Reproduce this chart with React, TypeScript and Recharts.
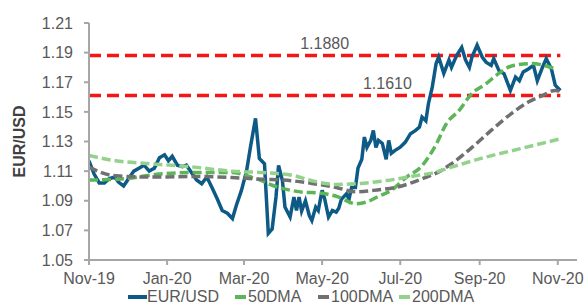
import {
  LineChart,
  Line,
  XAxis,
  YAxis,
  ReferenceLine,
  ReferenceDot,
} from "recharts";

// day 0 = 1 Nov 2019, the left edge of the date axis
const START = Date.parse("2019-11-01");
const toDay = (d: string) => (Date.parse(d) - START) / 86400000;

const fxDates = [
  "2019-11-01", "2019-11-05", "2019-11-09", "2019-11-13", "2019-11-17", "2019-11-21", "2019-11-24", "2019-11-28",
  "2019-12-02", "2019-12-06", "2019-12-10", "2019-12-14", "2019-12-18", "2019-12-22", "2019-12-26", "2019-12-30",
  "2020-01-02", "2020-01-05", "2020-01-09", "2020-01-13", "2020-01-16", "2020-01-20", "2020-01-24", "2020-01-28",
  "2020-02-01", "2020-02-05", "2020-02-09", "2020-02-13", "2020-02-17", "2020-02-21", "2020-02-24", "2020-02-28",
  "2020-03-03", "2020-03-06", "2020-03-10", "2020-03-13", "2020-03-17", "2020-03-20", "2020-03-23", "2020-03-26",
  "2020-03-28", "2020-03-31", "2020-04-02", "2020-04-06", "2020-04-09", "2020-04-11", "2020-04-13", "2020-04-15",
  "2020-04-18", "2020-04-21", "2020-04-23", "2020-04-26", "2020-04-28", "2020-05-01", "2020-05-03", "2020-05-06",
  "2020-05-09", "2020-05-12", "2020-05-14", "2020-05-16", "2020-05-20", "2020-05-22", "2020-05-24", "2020-05-27",
  "2020-05-29", "2020-06-01", "2020-06-03", "2020-06-05", "2020-06-08", "2020-06-10", "2020-06-12", "2020-06-14",
  "2020-06-17", "2020-06-20", "2020-06-22", "2020-06-24", "2020-06-27", "2020-07-01", "2020-07-05", "2020-07-09",
  "2020-07-13", "2020-07-16", "2020-07-18", "2020-07-21", "2020-07-23", "2020-07-26", "2020-07-29", "2020-07-31",
  "2020-08-04", "2020-08-08", "2020-08-10", "2020-08-14", "2020-08-18", "2020-08-21", "2020-08-24", "2020-08-26",
  "2020-08-30", "2020-09-03", "2020-09-06", "2020-09-10", "2020-09-12", "2020-09-16", "2020-09-20", "2020-09-22",
  "2020-09-25", "2020-09-29", "2020-10-02", "2020-10-05", "2020-10-09", "2020-10-13", "2020-10-16", "2020-10-20",
  "2020-10-23", "2020-10-27", "2020-10-30", "2020-11-03",
];
const eurUsd = [
  1.117, 1.108, 1.102, 1.102, 1.105, 1.106, 1.1026, 1.1,
  1.105, 1.11, 1.112, 1.114, 1.11, 1.112, 1.119, 1.121,
  1.117, 1.12, 1.114, 1.113, 1.114, 1.109, 1.104, 1.1015,
  1.106, 1.099, 1.0915, 1.0834, 1.0816, 1.078, 1.0868, 1.097,
  1.11, 1.126, 1.1456, 1.1186, 1.115, 1.068, 1.071, 1.0926,
  1.1138, 1.1037, 1.0857, 1.079, 1.0925, 1.0834, 1.0925, 1.083,
  1.09, 1.08, 1.0767, 1.0857, 1.0834, 1.097, 1.0913, 1.079,
  1.0834, 1.0823, 1.085, 1.091, 1.0947, 1.091, 1.099, 1.099,
  1.112, 1.118, 1.133, 1.126, 1.1307, 1.1375, 1.126, 1.1307,
  1.1287, 1.118, 1.1307, 1.122, 1.124, 1.1262, 1.1296, 1.1353,
  1.1375, 1.1397, 1.1465, 1.144, 1.1555, 1.1667, 1.1826, 1.187,
  1.176, 1.185, 1.18, 1.188, 1.1935, 1.185, 1.18, 1.187,
  1.195, 1.187, 1.1836, 1.1814, 1.186, 1.178, 1.1758, 1.1713,
  1.1645, 1.1735, 1.171, 1.177, 1.179, 1.1814, 1.171, 1.18,
  1.186, 1.179, 1.168, 1.1645,
];

const dma50Dates = [
  "2019-11-01", "2019-11-24", "2019-12-26", "2020-01-20", "2020-02-20", "2020-03-10", "2020-03-28", "2020-04-14",
  "2020-05-01", "2020-05-14", "2020-05-27", "2020-06-04", "2020-06-14", "2020-06-24", "2020-07-06", "2020-07-17",
  "2020-07-29", "2020-08-06", "2020-08-16", "2020-08-26", "2020-09-06", "2020-09-16", "2020-09-26", "2020-10-12",
  "2020-10-23", "2020-10-30",
];
const dma50 = [
  1.104, 1.1045, 1.108, 1.109, 1.109, 1.105, 1.099, 1.096,
  1.095, 1.0925, 1.088, 1.089, 1.093, 1.097, 1.106, 1.1127,
  1.128, 1.142, 1.151, 1.1625, 1.169, 1.176, 1.181, 1.1826,
  1.181, 1.179,
];

const dma100Dates = [
  "2019-11-01", "2019-11-20", "2019-12-20", "2020-01-25", "2020-02-20", "2020-03-15", "2020-04-01", "2020-04-23",
  "2020-05-12", "2020-05-27", "2020-06-10", "2020-06-30", "2020-07-20", "2020-07-31", "2020-08-10", "2020-08-26",
  "2020-09-10", "2020-09-26", "2020-10-09", "2020-10-20", "2020-10-30", "2020-11-03",
];
const dma100 = [
  1.1127, 1.107, 1.106, 1.1064, 1.1057, 1.1045, 1.104, 1.1017,
  1.099, 1.096, 1.097, 1.0995, 1.1055, 1.1095, 1.115, 1.126,
  1.1375, 1.149, 1.1566, 1.161, 1.1645, 1.164,
];

const dma200Dates = [
  "2019-11-01", "2019-11-22", "2019-12-19", "2020-01-22", "2020-02-20", "2020-03-16", "2020-04-09", "2020-04-23",
  "2020-05-12", "2020-05-27", "2020-06-20", "2020-07-14", "2020-07-25", "2020-08-10", "2020-09-06", "2020-10-02",
  "2020-11-03",
];
const dma200 = [
  1.1205, 1.117, 1.115, 1.1127, 1.11, 1.109, 1.107, 1.1035,
  1.101, 1.1015, 1.1036, 1.107, 1.1085, 1.1127, 1.1195, 1.125,
  1.1318,
];

const levels = [1.188, 1.161];
const levelLabels = ["1.1880", "1.1610"];

const tickDates = ["2019-11-01", "2020-01-01", "2020-03-01", "2020-05-01", "2020-07-01", "2020-09-01", "2020-11-01"];
const tickLabels = ["Nov-19", "Jan-20", "Mar-20", "May-20", "Jul-20", "Sep-20", "Nov-20"];
const yTicks = [1.05, 1.07, 1.09, 1.11, 1.13, 1.15, 1.17, 1.19, 1.21];

const series = [
  { name: "EUR/USD", dates: fxDates, values: eurUsd },
  { name: "50DMA", dates: dma50Dates, values: dma50 },
  { name: "100DMA", dates: dma100Dates, values: dma100 },
  { name: "200DMA", dates: dma200Dates, values: dma200 },
];

const COLORS: Record<string, string> = {
  "EUR/USD": "#0d5a87",
  "50DMA": "#5cb557",
  "100DMA": "#707070",
  "200DMA": "#93d18c",
};
const FONT = '"Liberation Sans", Arial, sans-serif';
const TEXT = "#595959";
const AXIS = "#a6a6a6";

const xTicks = tickDates.map(toDay);
const lastDay = toDay(fxDates[fxDates.length - 1]);
// label anchor days for the two level labels (text centre)
const labelDays = [184, 233];

function YTitle({ viewBox }: any) {
  const cy = viewBox.y + viewBox.height / 2;
  return (
    <text
      transform={`translate(25, ${cy}) rotate(-90)`}
      textAnchor="middle"
      fontFamily={FONT}
      fontSize={16}
      fontWeight="bold"
      fill="#404040"
    >
      EUR/USD
    </text>
  );
}

const legendLeft = [128, 235, 318, 399];

export default function App() {
  return (
    <div style={{ position: "relative", width: 587, height: 304, background: "#fff" }}>
      <style>{"body{margin:0}"}</style>
      <LineChart width={587} height={304} margin={{ top: 23, right: 10, bottom: 14, left: 0 }}>
        <XAxis
          type="number"
          dataKey="day"
          domain={[0, 381]}
          allowDataOverflow
          ticks={xTicks}
          tickFormatter={(v: number) => tickLabels[xTicks.indexOf(v)] ?? ""}
          height={30}
          stroke={AXIS}
          strokeWidth={2}
          tickSize={5}
          tickMargin={8}
          tick={{ fill: TEXT, fontSize: 16, fontFamily: FONT }}
        />
        <YAxis
          type="number"
          domain={[1.05, 1.21]}
          ticks={yTicks}
          tickFormatter={(v: number) => v.toFixed(2)}
          width={89}
          stroke={AXIS}
          strokeWidth={2}
          tickSize={5}
          tickMargin={11}
          tick={{ fill: TEXT, fontSize: 16, fontFamily: FONT }}
          label={<YTitle />}
        />
        {levels.map((lv) => (
          <ReferenceLine
            key={lv}
            segment={[
              { x: 0, y: lv },
              { x: lastDay, y: lv },
            ]}
            stroke="#f21616"
            strokeWidth={3.5}
            strokeDasharray="12 6"
          />
        ))}
        {series.map((s, i) => (
          <Line
            key={s.name}
            name={s.name}
            data={s.dates.map((d, j) => ({ day: toDay(d), v: s.values[j] }))}
            dataKey="v"
            type={i === 0 ? "linear" : "monotone"}
            stroke={COLORS[s.name]}
            strokeWidth={3.5}
            strokeDasharray={i === 0 ? undefined : "9 4"}
            dot={false}
            activeDot={false}
            isAnimationActive={false}
          />
        ))}
        {levels.map((lv, i) => (
          <ReferenceDot
            key={"lbl" + lv}
            x={labelDays[i]}
            y={lv}
            r={0}
            fill="none"
            stroke="none"
            label={{
              value: levelLabels[i],
              position: "top",
              offset: 7,
              fill: TEXT,
              fontSize: 16,
              fontFamily: FONT,
            }}
          />
        ))}
      </LineChart>
      {series.map((s, i) => (
        <div
          key={s.name}
          style={{
            position: "absolute",
            top: 289,
            left: legendLeft[i],
            height: 15,
            lineHeight: "15px",
            display: "flex",
            alignItems: "center",
            fontFamily: FONT,
            fontSize: 16,
            color: TEXT,
            whiteSpace: "nowrap",
          }}
        >
          <span
            style={{
              display: "inline-block",
              width: i === 0 ? 19 : 11,
              height: 4,
              background: COLORS[s.name],
              marginRight: i === 0 ? 0 : 2,
            }}
          />
          {s.name}
        </div>
      ))}
    </div>
  );
}
